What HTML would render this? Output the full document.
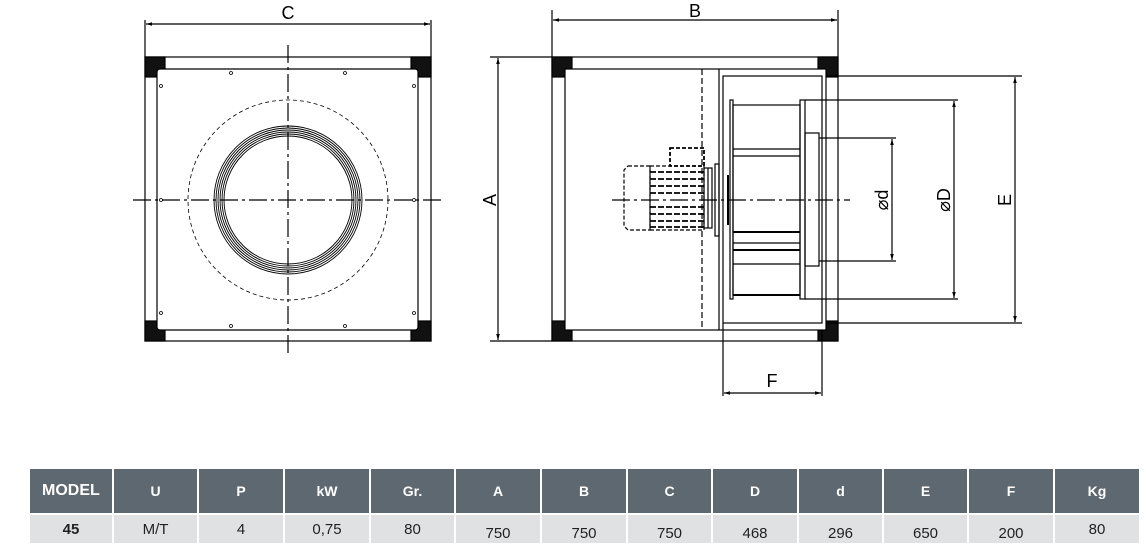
<!DOCTYPE html>
<html><head><style>
html,body{margin:0;padding:0;background:#fff;}
body{width:1146px;height:546px;position:relative;overflow:hidden;font-family:"Liberation Sans",sans-serif;}
svg{position:absolute;left:0;top:0;}
table{position:absolute;left:28px;top:467px;border-collapse:separate;border-spacing:2px 2px;}
td{text-align:center;font-size:14px;padding:0;box-sizing:border-box;}
tr.h td{background:#5e6870;color:#fff;font-weight:bold;height:44px;font-size:14px;}
tr.d td{background:#dfe1e3;color:#222;height:28px;font-size:15px;}
tr.d td span{position:relative;top:4px;}
</style></head><body>
<svg width="1146" height="546" viewBox="0 0 1146 546" fill="none" stroke="#000" stroke-width="1.2">
<defs>
<marker id="ar" viewBox="0 0 10 10" refX="10" refY="5" markerWidth="10" markerHeight="6" orient="auto-start-reverse" markerUnits="userSpaceOnUse"><path d="M0,2 L10,5 L0,8z" fill="#000" stroke="none"/></marker>
</defs>
<g>
<line x1="145" y1="20" x2="145" y2="57"/><line x1="431" y1="20" x2="431" y2="57"/>
<line x1="146" y1="24" x2="430" y2="24" marker-start="url(#ar)" marker-end="url(#ar)"/>
<text x="288" y="19" font-size="18" fill="#000" stroke="none" text-anchor="middle">C</text>
<rect x="145" y="57" width="286" height="284"/>
<rect x="145" y="57" width="20" height="20" fill="#111"/>
<rect x="411" y="57" width="20" height="20" fill="#111"/>
<rect x="145" y="321" width="20" height="20" fill="#111"/>
<rect x="411" y="321" width="20" height="20" fill="#111"/>
<rect x="157" y="69" width="261" height="261" rx="3" fill="#fff"/>
<g fill="#fff" stroke-width="0.8">
<circle cx="231" cy="73" r="1.5"/><circle cx="345" cy="73" r="1.5"/>
<circle cx="161" cy="86" r="1.5"/><circle cx="414" cy="86" r="1.5"/>
<circle cx="161" cy="200" r="1.5"/><circle cx="414" cy="200" r="1.5"/>
<circle cx="161" cy="313" r="1.5"/><circle cx="414" cy="313" r="1.5"/>
<circle cx="231" cy="326" r="1.5"/><circle cx="345" cy="326" r="1.5"/>
</g>
<circle cx="288" cy="200" r="100" stroke-dasharray="4,3" stroke-width="0.8"/>
<g stroke-width="0.9">
<ellipse cx="288" cy="200" rx="74" ry="74"/><ellipse cx="288" cy="200" rx="72" ry="72"/>
<ellipse cx="288" cy="200" rx="70" ry="70"/><ellipse cx="288" cy="200" rx="68" ry="68"/>
<ellipse cx="288" cy="200" rx="66" ry="66"/><ellipse cx="288" cy="200" rx="64" ry="64"/>
</g>
<line x1="288" y1="45" x2="288" y2="353" stroke-dasharray="18,4,3,4"/>
<line x1="133" y1="200" x2="442" y2="200" stroke-dasharray="18,4,3,4"/>
</g>
<g>
<line x1="552" y1="10" x2="552" y2="57"/><line x1="838" y1="10" x2="838" y2="57"/>
<line x1="553" y1="20" x2="837" y2="20" marker-start="url(#ar)" marker-end="url(#ar)"/>
<text x="695" y="17" font-size="18" fill="#000" stroke="none" text-anchor="middle">B</text>
<line x1="490" y1="57" x2="552" y2="57"/><line x1="490" y1="341" x2="552" y2="341"/>
<line x1="498" y1="58" x2="498" y2="340" marker-start="url(#ar)" marker-end="url(#ar)"/>
<text x="0" y="0" font-size="18" fill="#000" stroke="none" text-anchor="middle" transform="translate(496,200) rotate(-90)">A</text>
<rect x="552" y="57" width="286" height="284"/>
<rect x="552" y="57" width="20" height="20" fill="#111"/>
<rect x="818" y="57" width="20" height="20" fill="#111"/>
<rect x="552" y="321" width="20" height="20" fill="#111"/>
<rect x="818" y="321" width="20" height="20" fill="#111"/>
<rect x="565" y="69" width="261" height="261" fill="#fff"/>
<line x1="702" y1="69" x2="702" y2="330" stroke-dasharray="6,3"/>
<line x1="719" y1="69" x2="719" y2="330"/>
<rect x="723" y="76" width="99" height="247"/>
<line x1="826" y1="76" x2="1022" y2="76"/>
<line x1="826" y1="323" x2="1022" y2="323"/>
<rect x="730" y="100" width="3" height="199"/>
<rect x="733" y="105" width="67" height="190"/>
<line x1="733" y1="149" x2="800" y2="149"/><line x1="733" y1="156" x2="800" y2="156"/>
<line x1="733" y1="232" x2="800" y2="232" stroke-width="2"/><line x1="733" y1="243" x2="800" y2="243"/>
<line x1="733" y1="250" x2="800" y2="250" stroke-width="2"/><line x1="733" y1="264" x2="800" y2="264"/>
<line x1="733" y1="295" x2="800" y2="295" stroke-width="2"/>
<rect x="800" y="100" width="5" height="199"/>
<rect x="805" y="133" width="14" height="133"/>
<line x1="805" y1="100" x2="958" y2="100"/><line x1="805" y1="299" x2="958" y2="299"/>
<line x1="819" y1="138" x2="896" y2="138"/><line x1="819" y1="261" x2="896" y2="261"/>
<line x1="892" y1="139" x2="892" y2="260" marker-start="url(#ar)" marker-end="url(#ar)"/>
<line x1="954" y1="101" x2="954" y2="298" marker-start="url(#ar)" marker-end="url(#ar)"/>
<line x1="1015" y1="77" x2="1015" y2="322" marker-start="url(#ar)" marker-end="url(#ar)"/>
<text x="0" y="0" font-size="18" fill="#000" stroke="none" text-anchor="middle" transform="translate(888,200) rotate(-90)">⌀d</text>
<text x="0" y="0" font-size="18" fill="#000" stroke="none" text-anchor="middle" transform="translate(950,200) rotate(-90)">⌀D</text>
<text x="0" y="0" font-size="18" fill="#000" stroke="none" text-anchor="middle" transform="translate(1011,200) rotate(-90)">E</text>
<line x1="723" y1="323" x2="723" y2="396"/><line x1="822" y1="330" x2="822" y2="396"/>
<line x1="724" y1="393" x2="821" y2="393" marker-start="url(#ar)" marker-end="url(#ar)"/>
<text x="772" y="387" font-size="18" fill="#000" stroke="none" text-anchor="middle">F</text>
<g stroke-dasharray="4,2">
<path d="M628,166 H650 V230 H628 L624,226 V170 Z"/>
<rect x="650" y="166" width="54" height="64"/>
<rect x="670" y="148" width="34" height="18" stroke-width="1.8"/>
</g>
<g stroke-dasharray="6,2" stroke-width="1.8">
<line x1="650" y1="172" x2="704" y2="172"/><line x1="650" y1="179" x2="704" y2="179"/>
<line x1="650" y1="186" x2="704" y2="186"/><line x1="650" y1="193" x2="704" y2="193"/>
<line x1="650" y1="207" x2="704" y2="207"/><line x1="650" y1="214" x2="704" y2="214"/>
<line x1="650" y1="221" x2="704" y2="221"/><line x1="650" y1="227" x2="704" y2="227"/>
</g>
<rect x="704" y="168" width="8" height="60"/>
<line x1="708" y1="168" x2="708" y2="228"/>
<rect x="715" y="164" width="4" height="72"/>
<line x1="728" y1="175" x2="728" y2="225" stroke-width="2"/>
<line x1="612" y1="200" x2="850" y2="200" stroke-dasharray="18,4,3,4"/>
</g>
</svg>
<table>
<tr class="h"><td style="font-size:16px;text-align:left;padding-left:12px;width:82px">MODEL</td><td style="width:83px">U</td><td style="width:84px">P</td><td style="width:84px">kW</td><td style="width:83px">Gr.</td><td style="width:84px">A</td><td style="width:84px">B</td><td style="width:83px">C</td><td style="width:84px">D</td><td style="width:83px">d</td><td style="width:83px">E</td><td style="width:84px">F</td><td style="width:84px">Kg</td></tr>
<tr class="d"><td style="font-weight:bold">45</td><td>M/T</td><td>4</td><td>0,75</td><td>80</td><td><span>750</span></td><td><span>750</span></td><td><span>750</span></td><td><span>468</span></td><td><span>296</span></td><td><span>650</span></td><td><span>200</span></td><td>80</td></tr>
</table>
</body></html>
